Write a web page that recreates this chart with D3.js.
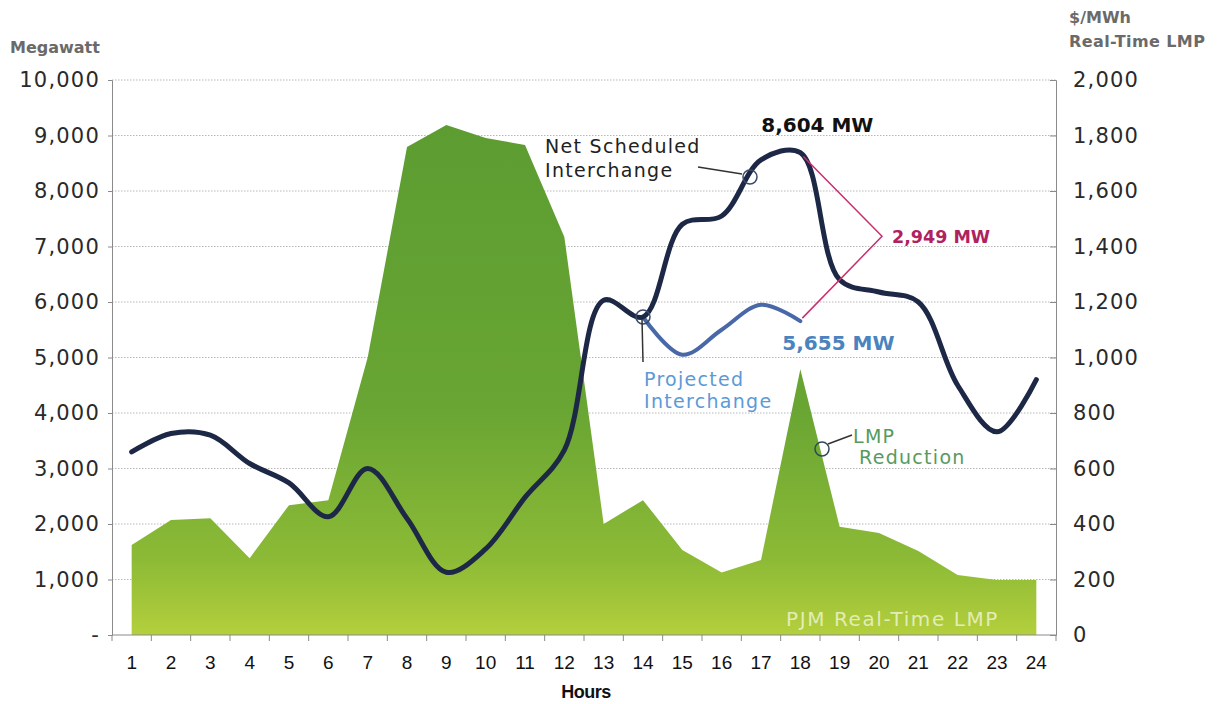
<!DOCTYPE html>
<html>
<head>
<meta charset="utf-8">
<script src="https://cdn.jsdelivr.net/npm/d3@7"></script>
<style>
  body { margin: 0; background: #fff; }
  svg { display: block; }
  .gotham { font-family: "DejaVu Sans", sans-serif; }
  .arial { font-family: "Liberation Sans", Arial, sans-serif; }
</style>
</head>
<body>
<svg id="chart"></svg>
<script>
// hours on the x axis
const hours = d3.range(1, 25);

// PJM real-time LMP, $/MWh (right axis)
const lmp = [324, 414, 421, 277, 468, 486, 1000, 1759, 1838, 1791, 1766, 1434,
             400, 486, 306, 225, 270, 958, 390, 368, 303, 216, 198, 198];

// net scheduled interchange, MW (left axis)
const netInterchange = [3300, 3630, 3600, 3090, 2740, 2130, 3000, 2100, 1130, 1550, 2480, 3330,
                        6030, 5730, 7400, 7550, 8560, 8690, 6400, 6180, 6000, 4500, 3660, 4600];

// projected interchange, MW, hours 14-18
const projHours = [14, 15, 16, 17, 18];
const projected = [5730, 5050, 5500, 5950, 5655];

const leftTicks = d3.range(0, 10001, 1000);
const rightTicks = d3.range(0, 2001, 200);

const config = {
  width: 1217,
  height: 704,
  margin: {top: 80, right: 161, bottom: 69, left: 112}
};

const innerW = config.width - config.margin.left - config.margin.right;
const innerH = config.height - config.margin.top - config.margin.bottom;

const svg = d3.select('#chart')
    .attr('width', config.width)
    .attr('height', config.height);

const defs = svg.append('defs');
const grad = defs.append('linearGradient')
    .attr('id', 'lmpFill')
    .attr('x1', 0).attr('y1', 0).attr('x2', 0).attr('y2', 1);
grad.append('stop').attr('offset', '0%').attr('stop-color', '#5c9c31');
grad.append('stop').attr('offset', '55%').attr('stop-color', '#68a533');
grad.append('stop').attr('offset', '85%').attr('stop-color', '#8cba36');
grad.append('stop').attr('offset', '100%').attr('stop-color', '#b4cf3c');

const chart = svg.append('g')
    .attr('transform', `translate(${config.margin.left},${config.margin.top})`);

// scales
const xScale = d3.scaleBand()
    .domain(hours)
    .range([0, innerW])
    .padding(0);
const xc = h => xScale(h) + xScale.bandwidth() / 2;

const yLeft = d3.scaleLinear().domain([0, 10000]).range([innerH, 0]);
const yRight = d3.scaleLinear().domain([0, 2000]).range([innerH, 0]);

// gridlines
chart.append('g')
  .selectAll('line')
  .data(leftTicks.filter(d => d > 0))
  .join('line')
    .attr('x1', 0).attr('x2', innerW)
    .attr('y1', d => yLeft(d)).attr('y2', d => yLeft(d))
    .attr('stroke', '#b8b8b8')
    .attr('stroke-width', 1)
    .attr('stroke-dasharray', '1.5,1.5');

// LMP area
const area = d3.area()
    .x((d, i) => xc(hours[i]))
    .y0(innerH)
    .y1(d => yRight(d));

chart.append('path')
    .datum(lmp)
    .attr('d', area)
    .attr('fill', 'url(#lmpFill)');

chart.append('text')
    .attr('class', 'gotham')
    .attr('x', xc(23) + 2)
    .attr('y', innerH - 9)
    .attr('text-anchor', 'end')
    .attr('font-size', 20)
    .attr('letter-spacing', 1.6)
    .attr('fill', '#eef3cf')
    .attr('fill-opacity', 0.85)
    .text('PJM Real-Time LMP');

// axes
const leftAxis = d3.axisLeft(yLeft)
    .tickValues(leftTicks)
    .tickSize(4)
    .tickPadding(10)
    .tickFormat(d => d === 0 ? '-' : d3.format(',')(d));

const rightAxis = d3.axisRight(yRight)
    .tickValues(rightTicks)
    .tickSize(-6)
    .tickPadding(17)
    .tickFormat(d3.format(','));

const leftG = chart.append('g').call(leftAxis);
const rightG = chart.append('g')
    .attr('transform', `translate(${innerW},0)`)
    .call(rightAxis);

[leftG, rightG].forEach(g => {
  g.select('.domain').attr('stroke', '#8a8a8a');
  g.selectAll('.tick line').attr('stroke', '#8a8a8a');
  g.selectAll('.tick text')
      .attr('class', 'gotham')
      .attr('font-size', 21)
      .attr('letter-spacing', 1.2)
      .attr('fill', '#2a2a2a');
});
leftG.selectAll('.tick text').attr('x', -12);

// bottom axis: labels at band centres, ticks at band edges
const bottom = chart.append('g').attr('transform', `translate(0,${innerH})`);
bottom.append('line')
    .attr('x1', 0).attr('x2', innerW)
    .attr('stroke', '#8a8a8a');
bottom.selectAll('.edge')
  .data(hours.map(h => xScale(h)).concat([innerW]))
  .join('line')
    .attr('class', 'edge')
    .attr('x1', d => d).attr('x2', d => d)
    .attr('y1', 0).attr('y2', 6)
    .attr('stroke', '#8a8a8a');
bottom.selectAll('.hour')
  .data(hours)
  .join('text')
    .attr('class', 'hour arial')
    .attr('x', d => xc(d))
    .attr('y', 34)
    .attr('text-anchor', 'middle')
    .attr('font-size', 19)
    .attr('fill', '#111')
    .text(d => d);

chart.append('text')
    .attr('class', 'arial')
    .attr('x', (innerW) / 2 + 2)
    .attr('y', innerH + 63)
    .attr('text-anchor', 'middle')
    .attr('font-size', 18)
    .attr('font-weight', 'bold')
    .attr('letter-spacing', -0.5)
    .attr('fill', '#111')
    .text('Hours');

// axis titles
svg.append('text')
    .attr('class', 'gotham')
    .attr('x', 10).attr('y', 53)
    .attr('font-size', 16)
    .attr('font-weight', 'bold')
    .attr('fill', '#6a6a6a')
    .text('Megawatt');

svg.append('text')
    .attr('class', 'gotham')
    .attr('x', 1069).attr('y', 23)
    .attr('font-size', 16)
    .attr('font-weight', 'bold')
    .attr('fill', '#6a6a6a')
    .text('$/MWh');
svg.append('text')
    .attr('class', 'gotham')
    .attr('x', 1069).attr('y', 47)
    .attr('font-size', 16)
    .attr('font-weight', 'bold')
    .attr('letter-spacing', 0.4)
    .attr('fill', '#6a6a6a')
    .text('Real-Time LMP');

// lines
const netLine = d3.line()
    .x((d, i) => xc(hours[i]))
    .y(d => yLeft(d))
    .curve(d3.curveCatmullRom.alpha(0.5));

const projLine = d3.line()
    .x((d, i) => xc(projHours[i]))
    .y(d => yLeft(d))
    .curve(d3.curveCatmullRom.alpha(0.5));

chart.append('path')
    .datum(projected)
    .attr('d', projLine)
    .attr('fill', 'none')
    .attr('stroke', '#4868a8')
    .attr('stroke-width', 4)
    .attr('stroke-linecap', 'round');

chart.append('path')
    .datum(netInterchange)
    .attr('d', netLine)
    .attr('fill', 'none')
    .attr('stroke', '#1d2846')
    .attr('stroke-width', 5)
    .attr('stroke-linecap', 'round');

// annotations
const ann = chart.append('g').attr('class', 'gotham');

// peak value and difference bracket
const pX = xc(18);
ann.append('text')
    .attr('x', pX + 17).attr('y', yLeft(8604) - 25)
    .attr('text-anchor', 'middle')
    .attr('font-size', 20)
    .attr('font-weight', 'bold')
    .attr('fill', '#111')
    .text('8,604 MW');

const vX = xc(20) + 3;
const vY = (yLeft(8604) + yLeft(5655)) / 2 - 3;
ann.append('path')
    .attr('d', `M${pX + 3},${yLeft(8604) - 1}L${vX},${vY}L${pX + 2},${yLeft(5655) - 3}`)
    .attr('fill', 'none')
    .attr('stroke', '#c8306e')
    .attr('stroke-width', 1.5);
ann.append('text')
    .attr('x', vX + 10).attr('y', vY + 7)
    .attr('font-size', 17.5)
    .attr('font-weight', 'bold')
    .attr('fill', '#b0225f')
    .text('2,949 MW');

ann.append('text')
    .attr('x', pX - 18).attr('y', yLeft(5655) + 29)
    .attr('font-size', 20)
    .attr('font-weight', 'bold')
    .attr('fill', '#4a83be')
    .text('5,655 MW');

// two-line labels as separate text rows
function label(x, y, lines, color, step, indent) {
  lines.forEach((t, i) => {
    ann.append('text')
        .attr('x', x + i * (indent || 0))
        .attr('y', y + i * step)
        .attr('font-size', 19)
        .attr('letter-spacing', 1.3)
        .attr('fill', color)
        .text(t);
  });
}

// Net Scheduled Interchange label
const nsX = xc(17) - 11;
const nsY = 97;
ann.append('circle')
    .attr('cx', nsX).attr('cy', nsY).attr('r', 7)
    .attr('fill', 'none').attr('stroke', '#3a4a6a').attr('stroke-width', 1.5);
ann.append('line')
    .attr('x1', nsX - 8).attr('y1', nsY - 3)
    .attr('x2', nsX - 52).attr('y2', nsY - 10)
    .attr('stroke', '#333').attr('stroke-width', 1.5);
label(433, 73, ['Net Scheduled', 'Interchange'], '#222', 24);

// Projected Interchange label
const piX = xc(14);
const piY = yLeft(5730);
ann.append('circle')
    .attr('cx', piX).attr('cy', piY).attr('r', 7)
    .attr('fill', 'none').attr('stroke', '#3a4a6a').attr('stroke-width', 1.5);
ann.append('line')
    .attr('x1', piX - 1).attr('y1', piY + 2)
    .attr('x2', piX).attr('y2', piY + 45)
    .attr('stroke', '#333').attr('stroke-width', 1.5);
label(piX + 1, 306, ['Projected', 'Interchange'], '#5b9ad6', 22);

// LMP Reduction label
const lrX = 710;
const lrY = 369;
ann.append('circle')
    .attr('cx', lrX).attr('cy', lrY).attr('r', 7)
    .attr('fill', 'none').attr('stroke', '#2e4a5a').attr('stroke-width', 1.5);
ann.append('line')
    .attr('x1', lrX + 6).attr('y1', lrY - 5)
    .attr('x2', lrX + 30).attr('y2', lrY - 14)
    .attr('stroke', '#333').attr('stroke-width', 1.5);
label(lrX + 31, 363, ['LMP', 'Reduction'], '#579a5f', 21, 6);
</script>
</body>
</html>
